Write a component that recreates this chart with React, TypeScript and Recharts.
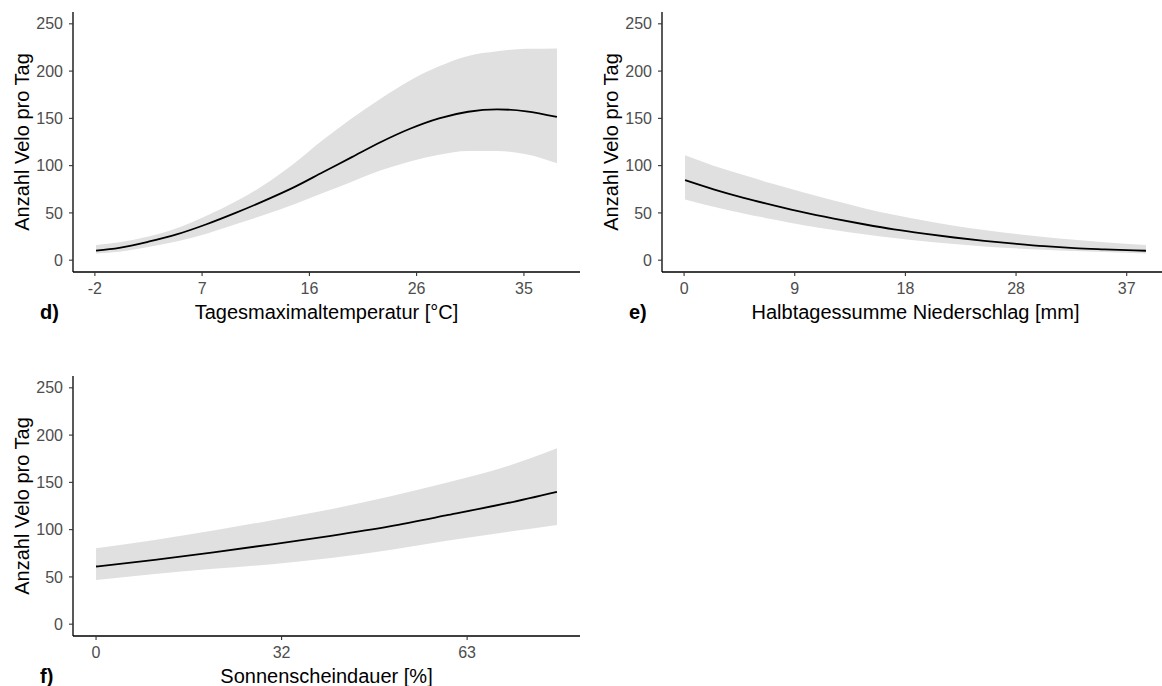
import React from 'react';
import { ComposedChart, Area, Line, XAxis, YAxis, Label } from 'recharts';

const FONT = '"Liberation Sans", Arial, Helvetica, sans-serif';

// ---- Panel d: Tagesmaximaltemperatur ----
const tempX = [-2.0, 0, 2.5, 5, 7.5, 10, 12.5, 15, 17.5, 20, 22.5, 25, 27.5, 30, 32.5, 35, 37.64];
const tempFit = [10, 13, 19.5, 27.5, 38, 50, 63, 77, 93, 109, 125, 139, 150, 157, 159.5, 157.5, 151.5];
const tempUpper = [16, 19, 25, 34, 47, 62, 80, 102, 127, 150, 171, 190, 205, 216, 221, 223.5, 224];
const tempLower = [7, 9, 14, 20, 28, 38, 48, 59, 71, 83, 95, 104.5, 111.5, 115.5, 115.5, 112, 102.5];
const tempTicks = [-2.1, 7.12, 16.35, 25.57, 34.8];
const tempTickLabels = ['-2', '7', '16', '26', '35'];

// ---- Panel e: Halbtagessumme Niederschlag ----
const rainX = [0.13, 2.5, 5, 7.5, 10, 12.5, 15, 17.5, 20, 22.5, 25, 27.5, 30, 32.5, 35, 38.45];
const rainFit = [84.7, 75, 66, 58, 50.5, 44, 38, 32.5, 28, 24, 20.5, 17.5, 14.8, 12.8, 11.5, 10];
const rainUpper = [111, 100, 90, 80.5, 71.5, 63, 55, 48, 42, 36.5, 32, 28, 24.5, 21.5, 19, 16];
const rainLower = [64.3, 56.5, 49.5, 43, 37, 32, 27.5, 23.5, 20, 17, 14.5, 12.5, 11, 9.7, 8.6, 7.1];
const rainTicks = [0.05, 9.25, 18.45, 27.65, 36.85];
const rainTickLabels = ['0', '9', '18', '28', '37'];

// ---- Panel f: Sonnenscheindauer ----
const sunX = [0, 10, 20, 30, 40, 50, 60, 70, 78.5];
const sunFit = [61, 68, 76, 84.5, 93.5, 103.5, 115.5, 128, 140];
const sunUpper = [80.2, 89, 99, 110, 121.5, 135, 150, 167, 186];
const sunLower = [46.6, 53, 58.5, 63.5, 70, 78.5, 88.5, 97.5, 105];
const sunTicks = [0, 31.6, 63.2];
const sunTickLabels = ['0', '32', '63'];

const yTicks = [0, 50, 100, 150, 200, 250];
const yDomain: [number, number] = [-12.5, 262.5];
const yTitle = 'Anzahl Velo pro Tag';

const PLOT_W = 507;
const PLOT_H = 260;
const Y_AXIS_W = 73;
const M_TOP = 12;
const M_RIGHT = 5;
const X_AXIS_H = 62;

function buildRows(xs: number[], fit: number[], lo: number[], hi: number[]) {
  return xs.map((x, i) => ({ x, fit: fit[i], band: [lo[i], hi[i]] }));
}

function expand(xs: number[]): [number, number] {
  const min = Math.min(...xs);
  const max = Math.max(...xs);
  const pad = (max - min) * 0.05;
  return [min - pad, max + pad];
}

type PanelProps = {
  left: number;
  top: number;
  tag: string;
  xTitle: string;
  xs: number[];
  fit: number[];
  lo: number[];
  hi: number[];
  xTicks: number[];
  xTickLabels: string[];
};

function Panel(p: PanelProps) {
  const rows = buildRows(p.xs, p.fit, p.lo, p.hi);
  const domain = expand(p.xs);
  const renderXTitle = (props: any) => {
    const vb = props.viewBox || {};
    const x = vb.x ?? Y_AXIS_W;
    const y = vb.y ?? M_TOP + PLOT_H;
    const w = vb.width ?? PLOT_W;
    return (
      <g>
        <text x={x + w / 2} y={y + 46.5} textAnchor="middle" fontSize={20} fontFamily={FONT} fill="#000">
          {p.xTitle}
        </text>
        <text x={x - 33} y={y + 46.5} textAnchor="start" fontSize={20} fontWeight="bold" fontFamily={FONT} fill="#000">
          {p.tag}
        </text>
      </g>
    );
  };
  const renderYTitle = (props: any) => {
    const vb = props.viewBox || {};
    const x = (vb.x ?? 0) + 29;
    const y = (vb.y ?? M_TOP) + (vb.height ?? PLOT_H) / 2;
    return (
      <text x={x} y={y} transform={`rotate(-90, ${x}, ${y})`} textAnchor="middle" fontSize={20} fontFamily={FONT} fill="#000">
        {yTitle}
      </text>
    );
  };
  return (
    <div style={{ position: 'absolute', left: p.left, top: p.top }}>
      <ComposedChart
        width={Y_AXIS_W + PLOT_W + M_RIGHT}
        height={M_TOP + PLOT_H + X_AXIS_H}
        data={rows}
        margin={{ top: M_TOP, right: M_RIGHT, bottom: 0, left: 0 }}
      >
        <XAxis
          dataKey="x"
          type="number"
          domain={domain}
          allowDataOverflow
          ticks={p.xTicks}
          interval={0}
          tickFormatter={(v: number) => p.xTickLabels[p.xTicks.indexOf(v)] ?? ''}
          height={X_AXIS_H}
          tickSize={4}
          tickMargin={7}
          tick={{ fill: '#4D4D4D', fontSize: 16, fontFamily: FONT }}
          tickLine={{ stroke: '#333333', strokeWidth: 1.1 }}
          axisLine={{ stroke: '#000', strokeWidth: 1.3 }}
        >
          <Label content={renderXTitle} />
        </XAxis>
        <YAxis
          type="number"
          domain={yDomain}
          allowDataOverflow
          ticks={yTicks}
          interval={0}
          width={Y_AXIS_W}
          tickSize={4}
          tickMargin={6}
          tick={{ fill: '#4D4D4D', fontSize: 16, fontFamily: FONT }}
          tickLine={{ stroke: '#333333', strokeWidth: 1.1 }}
          axisLine={{ stroke: '#000', strokeWidth: 1.3 }}
        >
          <Label content={renderYTitle} />
        </YAxis>
        <Area
          dataKey="band"
          type="monotone"
          stroke="none"
          fill="#E0E0E0"
          fillOpacity={1}
          isAnimationActive={false}
          activeDot={false}
        />
        <Line
          dataKey="fit"
          type="monotone"
          stroke="#000"
          strokeWidth={1.8}
          dot={false}
          activeDot={false}
          isAnimationActive={false}
        />
      </ComposedChart>
    </div>
  );
}

export default function App() {
  return (
    <div
      style={{
        position: 'absolute',
        left: 0,
        top: 0,
        width: 1162,
        height: 686,
        overflow: 'hidden',
        background: '#fff',
        fontFamily: FONT,
      }}
    >
      <Panel
        left={0}
        top={0}
        tag="d)"
        xTitle="Tagesmaximaltemperatur [°C]"
        xs={tempX}
        fit={tempFit}
        lo={tempLower}
        hi={tempUpper}
        xTicks={tempTicks}
        xTickLabels={tempTickLabels}
      />
      <Panel
        left={589}
        top={0}
        tag="e)"
        xTitle="Halbtagessumme Niederschlag [mm]"
        xs={rainX}
        fit={rainFit}
        lo={rainLower}
        hi={rainUpper}
        xTicks={rainTicks}
        xTickLabels={rainTickLabels}
      />
      <Panel
        left={0}
        top={364}
        tag="f)"
        xTitle="Sonnenscheindauer [%]"
        xs={sunX}
        fit={sunFit}
        lo={sunLower}
        hi={sunUpper}
        xTicks={sunTicks}
        xTickLabels={sunTickLabels}
      />
    </div>
  );
}
